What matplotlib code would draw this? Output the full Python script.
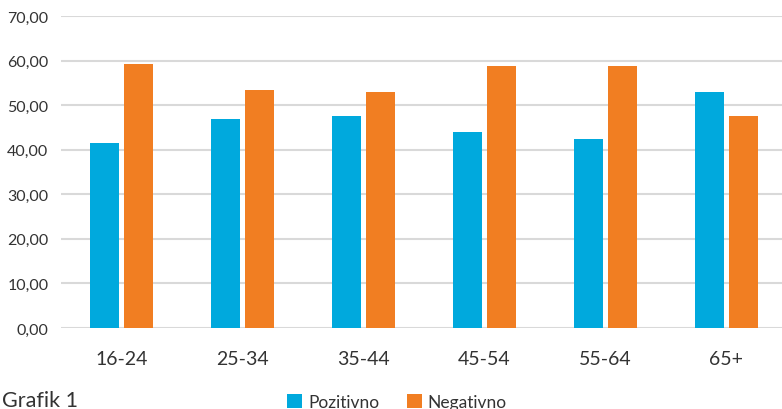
import matplotlib
matplotlib.use("Agg")
import matplotlib.pyplot as plt
import numpy as np

plt.rcParams['font.family'] = ['Lato', 'DejaVu Sans']

categories = ["16-24", "25-34", "35-44", "45-54", "55-64", "65+"]
pozitivno = [41.6, 46.9, 47.5, 43.9, 42.4, 53.0]
negativno = [59.2, 53.4, 53.0, 58.7, 58.7, 47.5]
y_ticks = [0, 10, 20, 30, 40, 50, 60, 70]

blue = "#00A9DD"
orange = "#F17E22"
text_color = "#333333"
grid_color = "#D9D9D9"

W, H = 782, 410
fig = plt.figure(figsize=(W / 100, H / 100), dpi=100)

# Plot area: left edge at x=61 px, category slot 121 px, y from 329 (0) to 17 (70)
left, slot = 61, 121
bottom_px, top_px = 329, 17
ax = fig.add_axes([left / W, (H - bottom_px) / H, slot * len(categories) / W,
                   (bottom_px - top_px) / H])

x = np.arange(len(categories))
bw = 0.24
off = 17 / slot
ax.bar(x - off, pozitivno, bw, color=blue, label="Pozitivno", zorder=3)
ax.bar(x + off, negativno, bw, color=orange, label="Negativno", zorder=3)

ax.set_xlim(-0.5, len(categories) - 0.5)
ax.set_ylim(0, 70)
ax.set_yticks(y_ticks)
ax.set_yticklabels([f"{v:.2f}".replace(".", ",") for v in y_ticks],
                   fontsize=11.5, color=text_color)
ax.set_xticks(x)
ax.set_xticklabels(categories, fontsize=14, color=text_color)
ax.tick_params(axis="both", length=0)
ax.tick_params(axis="y", pad=9)
ax.tick_params(axis="x", pad=16)

ax.grid(axis="y", color=grid_color, linewidth=1.5, zorder=0)
ax.set_axisbelow(True)
for s in ax.spines.values():
    s.set_visible(False)

fig.text(2 / W, 1 - 401 / H, "Grafik 1", fontsize=15.5, color=text_color,
         va="center", ha="left")

leg = fig.legend(loc="center", bbox_to_anchor=(397 / W, 1 - 403 / H), ncol=2,
                 frameon=False, fontsize=12.5, handlelength=0.85, handleheight=0.85,
                 handletextpad=0.35, columnspacing=1.6, borderpad=0)
for t in leg.get_texts():
    t.set_color(text_color)

fig.savefig("out.png", dpi=100)
